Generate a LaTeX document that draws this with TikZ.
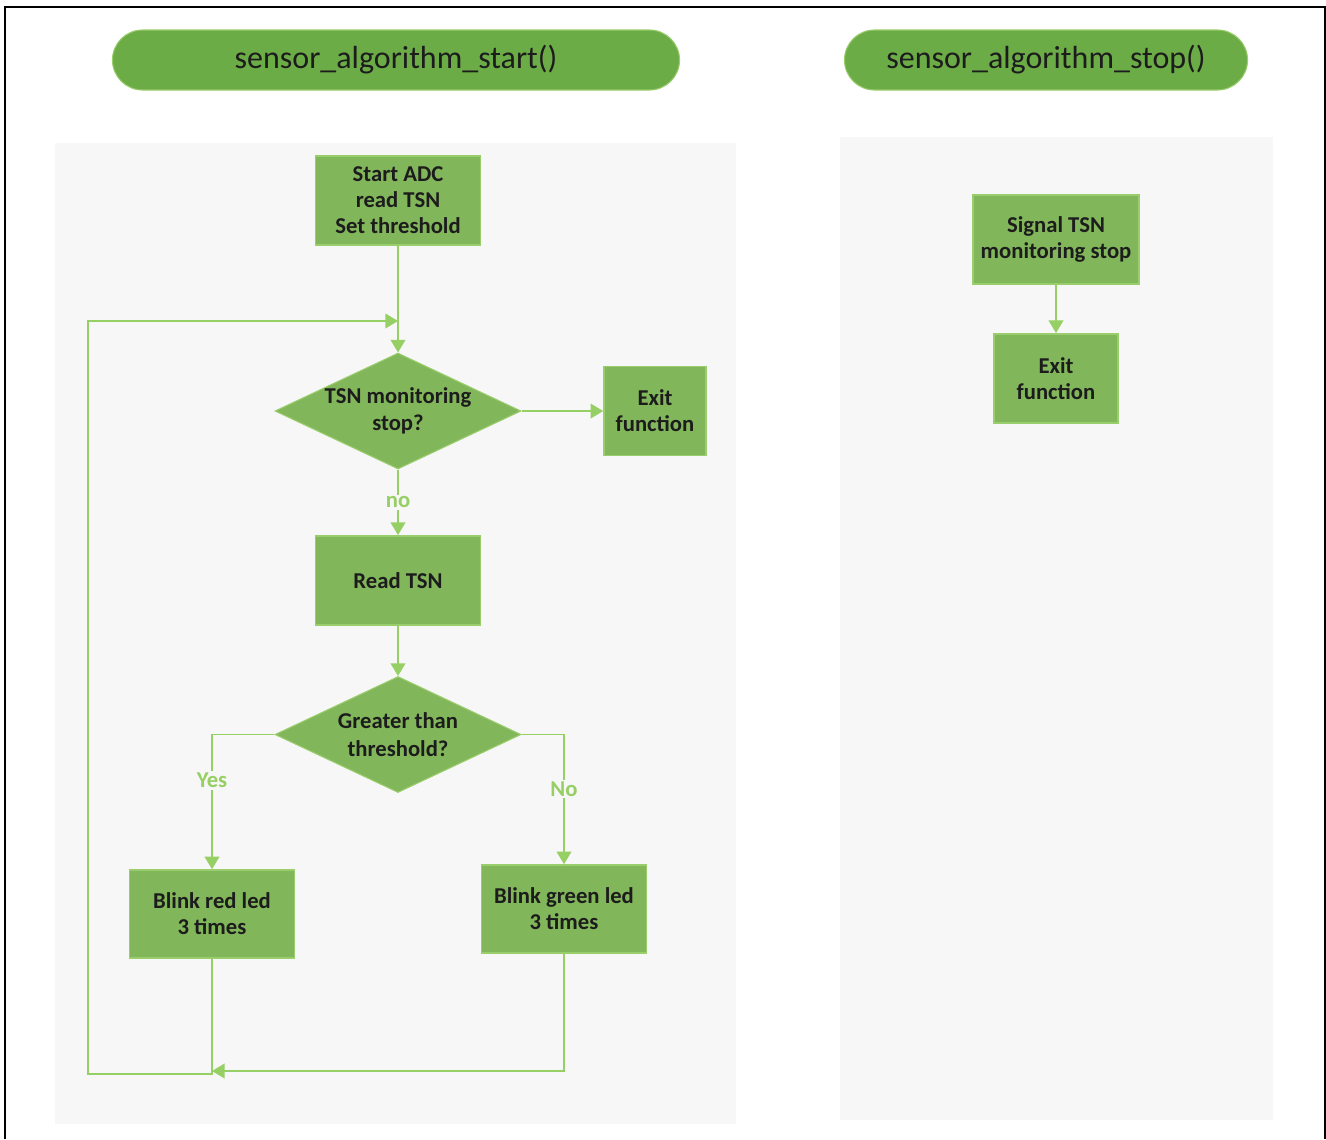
\documentclass[tikz,border=0pt]{standalone}
\usepackage{fontspec}
\setmainfont{Carlito}
\usetikzlibrary{positioning,arrows.meta,shapes.geometric,shapes.misc}
\definecolor{verde}{HTML}{6CAC47}
\definecolor{verdecaja}{HTML}{82B65B}
\definecolor{verdeborde}{HTML}{9ACD6C}
\definecolor{linea}{HTML}{96CF63}
\definecolor{panel}{HTML}{F7F7F7}
\definecolor{tinta}{HTML}{1C1C1C}

\begin{document}
\begin{tikzpicture}[x=0.75pt,y=-0.75pt,
    caja/.style={rectangle,fill=verdecaja,draw=verdeborde,line width=1.2pt,
      minimum width=124pt,minimum height=67pt,align=center,text=tinta,
      font=\fontsize{17}{19.5}\selectfont\bfseries,inner sep=0pt},
    rombo/.style={diamond,fill=verdecaja,draw=verdeborde,line width=0.8pt,
      minimum width=184.5pt,minimum height=87pt,inner sep=0pt},
    rtexto/.style={align=center,text=tinta,font=\fontsize{17}{20.5}\selectfont\bfseries},
    titulo/.style={rounded rectangle,fill=verde,draw=verdeborde,line width=0.8pt,
      minimum height=45pt,text=tinta,font=\fontsize{24}{28}\selectfont},
    flujo/.style={draw=linea,line width=1.4pt,-{Triangle[width=11pt,length=9.5pt]}},
    etiq/.style={fill=panel,text=linea,inner sep=1.5pt,font=\fontsize{17}{20}\selectfont\bfseries}]
    \useasboundingbox (0,0) rectangle (1326,1139);
    % marco y paneles
    \draw[black,line width=1.6pt] (5,1139) -- (5,7) -- (1325,7) -- (1325,1139);
    \fill[panel] (55,143) rectangle (736,1124);
    \fill[panel] (840,137) rectangle (1273,1120);
    \node[titulo,minimum width=432pt] (tinicio) at (396,60) {sensor\_algorithm\_start()};
    \node[titulo,minimum width=309pt] (tparar) at (1046,60) {sensor\_algorithm\_stop()};
    % diagrama de inicio
    \node[caja] (inicio) at (398,200.5) {Start ADC\\read TSN\\Set threshold};
    \node[rombo,label={[rtexto]center:TSN monitoring\\stop?}] (parar) at (398,411) {};
    \node[caja,minimum width=76.5pt] (salidaA) at (655,411) {Exit\\function};
    \node[caja] (leer) at (398,580.5) {Read TSN};
    \node[rombo,label={[rtexto]center:Greater than\\threshold?}] (mayor) at (398,734.5) {};
    \node[caja,minimum width=124pt,minimum height=66pt] (rojo) at (212,914) {Blink red led\\3 times};
    \node[caja,minimum width=124pt,minimum height=66pt] (verdeled) at (564,909) {Blink green led\\3 times};
    \coordinate (entrada) at (398,321);
    \coordinate (esquina) at (88,1074);
    \coordinate (union) at (212,1071);
    \draw[flujo] (inicio) -- (parar);
    \draw[flujo] (parar.east) -- (salidaA.west);
    \draw[flujo] (parar) -- node[etiq] {no} (leer);
    \draw[flujo] (leer) -- (mayor);
    \draw[flujo] (mayor.west) -| node[etiq,pos=0.67] {Yes} (rojo);
    \draw[flujo] (mayor.east) -| node[etiq,pos=0.71] {No} (verdeled);
    \draw[flujo] (rojo.south) |- (esquina) |- (entrada);
    \draw[flujo] (verdeled.south) |- (union);
    % diagrama de parada
    \node[caja,minimum width=124.5pt] (senal) at (1056,239.5) {Signal TSN\\monitoring stop};
    \node[caja,minimum width=93pt] (salidaB) at (1056,378.5) {Exit\\function};
    \draw[flujo] (senal) -- (salidaB);
  \end{tikzpicture}
\end{document}
